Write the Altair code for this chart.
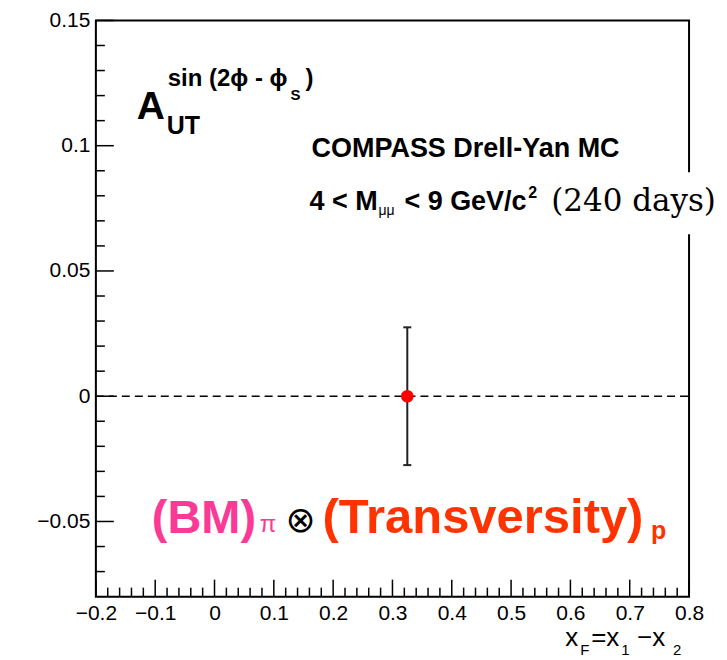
import altair as alt
import pandas as pd

# ---- data ----
x_major = [-0.2, -0.1, 0.0, 0.1, 0.2, 0.3, 0.4, 0.5, 0.6, 0.7, 0.8]
y_major = [-0.05, 0.0, 0.05, 0.1, 0.15]
x_minor = [round(-0.2 + 0.02 * i, 2) for i in range(1, 50) if i % 5 != 0]
y_minor = [round(-0.08 + 0.01 * i, 2) for i in range(1, 23) if (i - 3) % 5 != 0]

xf = [0.325]
asym = [0.0]
err = [0.0275]

# ---- layout ----
OX, OY = 96, 20          # plot-area origin in page pixels
W, H = 594, 577
xs = alt.Scale(domain=[-0.2, 0.8], nice=False, zero=False)
ys = alt.Scale(domain=[-0.08, 0.15], nice=False, zero=False)

pts = pd.DataFrame({"xf": xf, "a": asym, "lo": [a - e for a, e in zip(asym, err)],
                    "hi": [a + e for a, e in zip(asym, err)]})

xaxis = alt.Axis(values=x_major, ticks=False, domain=False, grid=False, title=None,
                 labelFont="Liberation Sans", labelFontSize=21, labelColor="black",
                 labelPadding=6, labelFlush=False, labelOverlap=False, tickSize=0,
                 labelExpr="datum.value == 0 ? '0' : format(datum.value, '.1f')")
yaxis = alt.Axis(values=y_major, ticks=False, domain=False, grid=False, title=None,
                 labelFont="Liberation Sans", labelFontSize=21, labelColor="black",
                 labelPadding=6, labelFlush=False, labelOverlap=False, tickSize=0,
                 labelExpr="datum.value == 0 ? '0' : format(datum.value, '~g')")


def X(f):
    return alt.X(f, scale=xs, axis=xaxis)


def Y(f):
    return alt.Y(f, scale=ys, axis=yaxis)


zero = alt.Chart(pd.DataFrame({"x0": [-0.2], "x1": [0.8], "y": [0.0]})).mark_rule(
    color="black", strokeWidth=1.5, strokeDash=[8, 5]).encode(
    x=X("x0:Q"), x2="x1:Q", y=Y("y:Q"))

ebar = alt.Chart(pts).mark_rule(color="#222222", strokeWidth=2).encode(
    x=X("xf:Q"), y=Y("lo:Q"), y2="hi:Q")
cap_hi = alt.Chart(pts).mark_rule(color="#222222", strokeWidth=2, xOffset=-4, x2Offset=4).encode(
    x=X("xf:Q"), x2="xf:Q", y=Y("hi:Q"))
cap_lo = alt.Chart(pts).mark_rule(color="#222222", strokeWidth=2, xOffset=-4, x2Offset=4).encode(
    x=X("xf:Q"), x2="xf:Q", y=Y("lo:Q"))
point = alt.Chart(pts).mark_circle(size=160, color="#ff0000", opacity=1).encode(
    x=X("xf:Q"), y=Y("a:Q"))


def yticks(vals, length):
    return alt.Chart(pd.DataFrame({"v": vals})).mark_rule(color="black", strokeWidth=1.5).encode(
        y=Y("v:Q"), x=alt.value(0), x2=alt.value(length))


def xticks(vals, length):
    return alt.Chart(pd.DataFrame({"v": vals})).mark_rule(color="black", strokeWidth=1.5).encode(
        x=X("v:Q"), y=alt.value(H), y2=alt.value(H - length))


gap = alt.Chart(pd.DataFrame({"a": [0]})).mark_rect(color="white").encode(
    x=alt.value(580), x2=alt.value(604), y=alt.value(152), y2=alt.value(214))

dummy = pd.DataFrame({"a": [0]})


def txt(s, x, y, size, color="black", font="Liberation Sans", weight="bold"):
    return alt.Chart(dummy).mark_text(text=s, align="left", baseline="alphabetic", font=font,
                                      fontSize=size, fontWeight=weight, color=color).encode(
        x=alt.value(x - OX), y=alt.value(y - OY))


PINK = "#fa3a96"
RED = "#ff3300"
texts = [
    txt("A", 137, 119, 39),
    txt("UT", 167, 134, 25),
    txt("sin (2ϕ - ϕ", 168, 86, 24),
    txt("S", 291, 100, 15),
    txt(")", 306, 86, 24),
    txt("COMPASS Drell-Yan MC", 312, 157, 27),
    txt("4 < M", 310, 210, 27),
    txt("μμ", 379, 215, 14, weight="normal"),
    txt("< 9 GeV/c", 405, 210, 27),
    txt("2", 529, 198, 16),
    txt("(240 days)", 552, 211, 31, font="DejaVu Serif", weight="normal"),
    txt("(BM)", 152, 533, 47, color=PINK),
    txt("π", 260, 532, 24, color=PINK, weight="normal"),
    txt("⊗", 286, 532, 36, weight="normal", font="DejaVu Sans"),
    txt("(Transversity)", 323, 533, 49, color=RED),
    txt("p", 652, 539, 25, color=RED),
    txt("x", 566, 646, 26, weight="normal"),
    txt("F", 581, 655, 15, weight="normal"),
    txt("=x", 592, 646, 26, weight="normal"),
    txt("1", 622, 655, 15, weight="normal"),
    txt("−x", 638, 646, 26, weight="normal"),
    txt("2", 674, 655, 15, weight="normal"),
]

chart = alt.layer(
    zero,
    yticks(y_major, 18), yticks(y_minor, 9),
    xticks(x_major, 17), xticks(x_minor, 9),
    ebar, cap_hi, cap_lo, point,
    gap, *texts,
).properties(
    width=W, height=H,
    autosize=alt.AutoSizeParams(type="none"),
    padding={"left": OX - 8, "top": OY - 8, "right": 30, "bottom": 62},
).configure_view(stroke="black", strokeWidth=2)

chart.save("out.html", embed_options={"renderer": "svg", "actions": False})
